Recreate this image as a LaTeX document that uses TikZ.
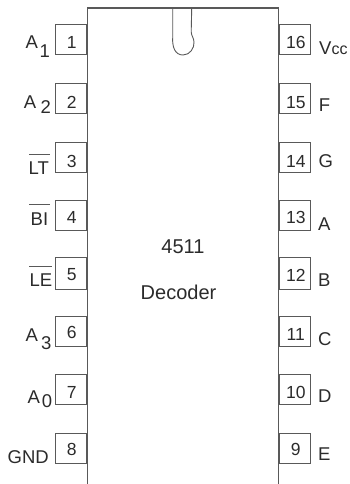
\documentclass[tikz,border=0pt]{standalone}
\usepackage{fontspec}
\setmainfont{Liberation Sans}
\definecolor{ln}{gray}{0.35}
\definecolor{tx}{gray}{0.17}
\tikzset{x=1pt,y=-1pt,
 pinbox/.style={draw=ln,line width=1pt,minimum width=30.5pt,inner sep=0pt},
 digit/.style={inner sep=0pt,font=\fontsize{17.5}{20}\selectfont,text=tx,anchor=base},
 lab/.style={inner sep=0pt,font=\fontsize{18.5}{20}\selectfont,text=tx,anchor=base west},
 txt/.style={inner sep=0pt,font=\fontsize{20}{22}\selectfont,text=tx,anchor=base}}
\newcommand{\ovl}[4]{\rlap{\kern#1pt\textcolor{ln}{\rule[#2pt]{#3pt}{0.9pt}}}#4}
\begin{document}
\begin{tikzpicture}
\useasboundingbox (0,0) rectangle (349,484);
\coordinate (bl) at (87.7,484);
\coordinate (tl) at (87.7,8);
\coordinate (tr) at (278.2,8);
\coordinate (br) at (278.2,484);
\draw[ln,line width=1.1pt] (bl) -- (tl) -- (tr) -- (br);
\coordinate (na) at (172.7,8.5);
\coordinate (nb) at (191.7,8.5);
\draw[ln,line width=0.9pt] (nb) -- (na) -- (172.7,38) .. controls (172.2,47) and (175,55) .. (183,55) .. controls (190,55) and (194.5,48) .. (194,42) .. controls (193.8,38) and (191.5,36) .. (191.2,32) -- cycle;
\foreach \n/\t/\b/\g in {1/25/55/48.5,2/83.5/113.5/108.5,3/142/172/167,4/200.5/230.5/223.3,5/257.5/289/280,6/316/346/338.3,7/374/404/398,8/433/463/455}
  {\node[pinbox,minimum height={(\b-\t)*1pt}] (p\n) at (71.2,{(\t+\b)/2}) {};
   \node[digit] (d\n) at (71.7,\g) {\n};}
\foreach \n/\t/\b/\g in {16/25/55/48.5,15/83.5/113.5/108.5,14/142/172/167.5,13/200.5/230.5/223.3,12/257.5/289/281.7,11/316/346/340,10/374/404/398,9/433/463/455}
  {\node[pinbox,minimum height={(\b-\t)*1pt}] (p\n) at (294.8,{(\t+\b)/2}) {};
   \node[digit] (d\n) at (295.8,\g) {\n};}
\node[lab] (a1) at (25.5,48.3) {A};
\node[lab] (a1s) at (39.5,57.7) {1};
\node[lab] (a2) at (23.7,108.3) {A};
\node[lab] (a2s) at (40.5,113.5) {2};
\node[lab] (lt) at (28.5,174) {\ovl{0.5}{19}{21}{LT}};
\node[lab] (bi) at (30.5,225.7) {\ovl{-1.5}{20.5}{21}{BI}};
\node[lab] (le) at (29.5,286) {\ovl{-0.5}{19}{23}{LE}};
\node[lab] (a3) at (25.5,341.7) {A};
\node[lab] (a3s) at (41,349) {3};
\node[lab] (a0) at (27.5,403.3) {A};
\node[lab] (a0s) at (41.7,407.3) {0};
\node[lab] (gnd) at (7.5,463.3) {GND};
\node[lab] (vcc) at (319,55) {V{\fontsize{16}{18}\selectfont cc}};
\node[lab] (f) at (318.7,111) {F};
\node[lab] (g) at (318.3,167.5) {G};
\node[lab] (aa) at (318,230) {A};
\node[lab] (b) at (318,286.7) {B};
\node[lab] (c) at (318,345) {C};
\node[lab] (d) at (317.8,402.7) {D};
\node[lab] (e) at (318,460.7) {E};
\node[txt] (n4511) at (183,253.3) {4511};
\node[txt] (dec) at (178.5,299.3) {Decoder};
\end{tikzpicture}
\end{document}
